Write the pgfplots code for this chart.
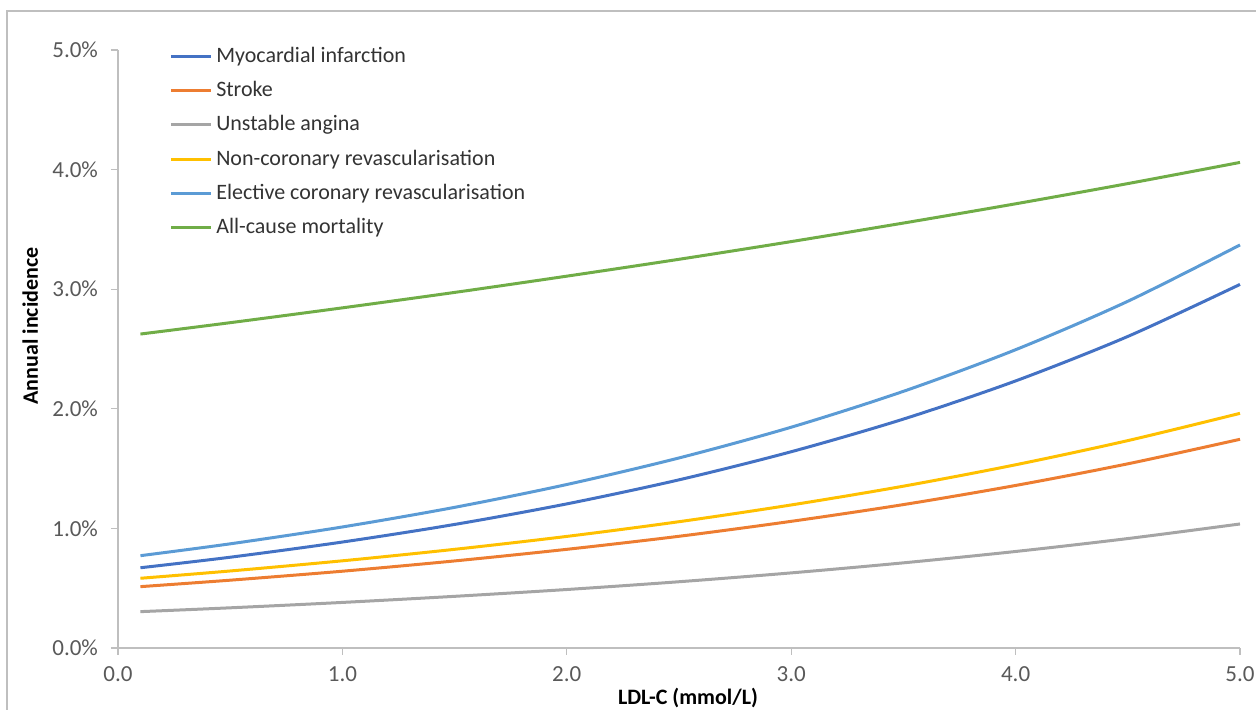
\documentclass[border=0pt]{standalone}
\usepackage{fontspec}
\setmainfont{Carlito}
\usepackage{pgfplots}
\pgfplotsset{compat=1.18}
\definecolor{micol}{HTML}{4472C4}
\definecolor{strokecol}{HTML}{ED7D31}
\definecolor{uacol}{HTML}{A5A5A5}
\definecolor{ncrcol}{HTML}{FFC000}
\definecolor{ecrcol}{HTML}{5B9BD5}
\definecolor{acmcol}{HTML}{70AD47}
\definecolor{axgray}{HTML}{BFBFBF}
\definecolor{tickgray}{HTML}{595959}

\begin{document}
\begin{tikzpicture}
\path[use as bounding box] (-59pt,-31pt) rectangle (569pt,324pt);
\draw[axgray, line width=0.6pt] (-55.5pt,-31pt) -- (-55.5pt,318.5pt) -- (569pt,318.5pt);
\begin{axis}[
    at={(0,0)}, anchor=south west,
    scale only axis,
    width=561pt, height=299pt,
    xmin=0, xmax=5, ymin=0, ymax=5,
    axis x line*=bottom, axis y line*=left,
    axis line style={axgray, line width=0.6pt},
    tick style={axgray, line width=0.6pt},
    tick align=outside, major tick length=3.5pt,
    xtick={0,1,2,3,4,5},
    xticklabels={0.0,1.0,2.0,3.0,4.0,5.0},
    ytick={0,1,2,3,4,5},
    yticklabels={0.0\%,1.0\%,2.0\%,3.0\%,4.0\%,5.0\%},
    ticklabel style={font=\fontsize{11.5}{13}\selectfont, text=tickgray},
    xticklabel style={yshift=-2.5pt},
    yticklabel style={xshift=-3pt},
    xlabel={\textbf{LDL-C (mmol/L)}},
    ylabel={\textbf{Annual incidence}},
    label style={font=\fontsize{11}{13}\selectfont},
    xlabel style={yshift=4pt, xshift=4.5pt},
    ylabel style={yshift=0.25pt, xshift=11.5pt},
    legend style={at={(0.040,1.019)}, anchor=north west, draw=none, fill=none,
        font=\fontsize{11}{13}\selectfont, text=black!80, row sep=4pt,
        nodes={inner sep=2pt}},
    legend cell align=left,
    legend image code/.code={\draw[#1] (0pt,0pt) -- (20pt,0pt);},
    every axis plot/.append style={line width=1.5pt, smooth},
    clip=false,
]
\addplot[micol] coordinates {(0.1,0.671) (0.5,0.759) (1.0,0.886) (1.5,1.033) (2.0,1.205) (2.5,1.406) (3.0,1.641) (3.5,1.914) (4.0,2.233) (4.5,2.605) (5.0,3.040)};
\addlegendentry{Myocardial infarction}
\addplot[strokecol] coordinates {(0.1,0.513) (0.5,0.567) (1.0,0.642) (1.5,0.728) (2.0,0.825) (2.5,0.934) (3.0,1.059) (3.5,1.199) (4.0,1.359) (4.5,1.540) (5.0,1.745)};
\addlegendentry{Stroke}
\addplot[uacol] coordinates {(0.1,0.304) (0.5,0.336) (1.0,0.381) (1.5,0.432) (2.0,0.489) (2.5,0.554) (3.0,0.628) (3.5,0.712) (4.0,0.807) (4.5,0.915) (5.0,1.037)};
\addlegendentry{Unstable angina}
\addplot[ncrcol] coordinates {(0.1,0.583) (0.5,0.644) (1.0,0.729) (1.5,0.825) (2.0,0.933) (2.5,1.056) (3.0,1.196) (3.5,1.353) (4.0,1.532) (4.5,1.734) (5.0,1.962)};
\addlegendentry{Non-coronary revascularisation}
\addplot[ecrcol] coordinates {(0.1,0.772) (0.5,0.871) (1.0,1.012) (1.5,1.176) (2.0,1.367) (2.5,1.589) (3.0,1.846) (3.5,2.146) (4.0,2.494) (4.5,2.899) (5.0,3.370)};
\addlegendentry{Elective coronary revascularisation}
\addplot[acmcol] coordinates {(0.1,2.625) (0.5,2.720) (1.0,2.844) (1.5,2.973) (2.0,3.109) (2.5,3.250) (3.0,3.398) (3.5,3.553) (4.0,3.714) (4.5,3.883) (5.0,4.060)};
\addlegendentry{All-cause mortality}
\end{axis}
\end{tikzpicture}
\end{document}
